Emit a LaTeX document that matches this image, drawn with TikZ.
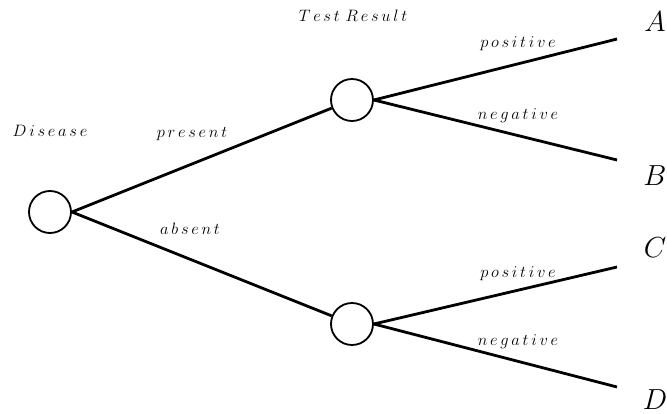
\documentclass[tikz,border=0pt]{standalone}
\usepackage{fix-cm}
\usepackage{tikz}
% small extra gap between letters of the branch labels
\newcommand\lsp{\mkern3mu}
\begin{document}
\begin{tikzpicture}[x=1pt,y=-1pt,
  chance/.style={circle,draw,line width=1.8pt,minimum size=42pt,inner sep=0pt},
  branch/.style={line width=2.8pt},
  lbl/.style={font=\fontsize{16.5}{18}\selectfont,anchor=base,inner sep=0pt},
  outcome/.style={font=\fontsize{29}{32}\selectfont,anchor=base,inner sep=0pt}]
\useasboundingbox (0,0) rectangle (667,414);

% decision tree nodes
\node[chance] (root) at (50,212) {};
\node[chance] (up) at (352,100) {};
\node[chance] (lo) at (352,324) {};
\coordinate (endA) at (617,39);
\coordinate (endB) at (617,160);
\coordinate (endC) at (617,267);
\coordinate (endD) at (617,387);

% branches
\draw[branch] (root.east) -- (up);
\draw[branch] (root.east) -- (lo);
\draw[branch] (up.east) -- (endA);
\draw[branch] (up.east) -- (endB);
\draw[branch] (lo.east) -- (endC);
\draw[branch] (lo.east) -- (endD);

% labels
\node[lbl] (tDisease) at (50,137) {$D\lsp i\lsp s\lsp e\lsp a\lsp s\lsp e$};
\node[lbl] (tPresent) at (192,138) {$p\lsp r\lsp e\lsp s\lsp e\lsp n\lsp t$};
\node[lbl] (tAbsent) at (190,235) {$a\lsp b\lsp s\lsp e\lsp n\lsp t$};
\node[lbl] (tTest) at (353,22) {$T\lsp e\lsp s\lsp t$\hspace{6pt}$R\lsp e\lsp s\lsp u\lsp l\lsp t$};
\node[lbl] (tPos1) at (518,48) {$p\lsp o\lsp s\lsp i\lsp t\lsp i\lsp v\lsp e$};
\node[lbl] (tNeg1) at (518,120) {$n\lsp e\lsp g\lsp a\lsp t\lsp i\lsp v\lsp e$};
\node[lbl] (tPos2) at (518,277) {$p\lsp o\lsp s\lsp i\lsp t\lsp i\lsp v\lsp e$};
\node[lbl] (tNeg2) at (518,345) {$n\lsp e\lsp g\lsp a\lsp t\lsp i\lsp v\lsp e$};

% outcomes
\node[outcome] (A) at (655,32) {$A$};
\node[outcome] (B) at (655,186) {$B$};
\node[outcome] (C) at (655,258) {$C$};
\node[outcome] (D) at (655,409) {$D$};
\end{tikzpicture}
\end{document}
